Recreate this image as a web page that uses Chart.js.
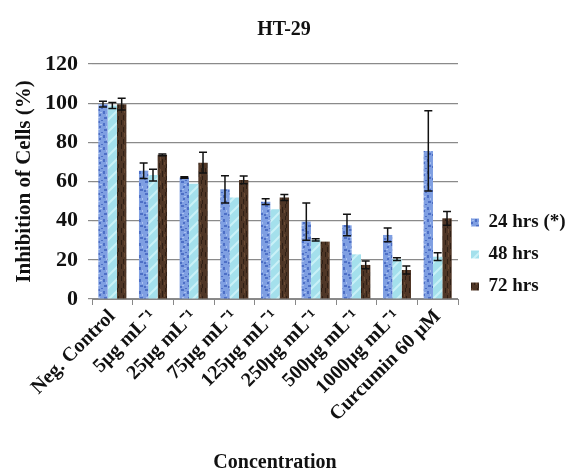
<!DOCTYPE html>
<html>
<head>
<meta charset="utf-8">
<script src="https://cdn.jsdelivr.net/npm/chart.js@4.4.1/dist/chart.umd.min.js"></script>
<style>
  html, body { margin: 0; padding: 0; background: #fff; }
  #wrap { width: 568px; height: 476px; }
</style>
</head>
<body>
<div id="wrap"><canvas id="chart" width="568" height="476"></canvas></div>
<script>
const categories = ['Neg. Control', '5μg mL⁻¹', '25μg mL⁻¹', '75μg mL⁻¹', '125μg mL⁻¹',
  '250μg mL⁻¹', '500μg mL⁻¹', '1000μg mL⁻¹', 'Curcumin 60 μM'];

const hrs24 = [99.5, 65.5, 62, 56, 49.7, 39.5, 37.8, 32.7, 75.6];
const hrs48 = [98.8, 63.3, 58.8, 51.8, 45.8, 30.2, 22.8, 20.4, 21.6];
const hrs72 = [99.5, 73.6, 69.6, 60.8, 51.8, 29.3, 17.4, 14.8, 41.2];

const err24 = [1.5, 4, 0.4, 7, 1.5, 9.5, 5.5, 3.5, 20.5];
const err48 = [1.5, 3, 0, 0, 0, 0.6, 0, 0.7, 2];
const err72 = [3, 0.4, 5.3, 2, 1.5, 0, 2, 2, 3.5];

const yTicks = [0, 20, 40, 60, 80, 100, 120];

const serif = 'Liberation Serif, Times New Roman, serif';

function makePattern(base, draw) {
  const c = document.createElement('canvas');
  c.width = 12; c.height = 12;
  const g = c.getContext('2d');
  g.fillStyle = base;
  g.fillRect(0, 0, 12, 12);
  draw(g);
  return g.createPattern(c, 'repeat');
}

const ctx = document.getElementById('chart').getContext('2d');

const blueFill = makePattern('#7f9fe2', g => {
  g.fillStyle = '#4d6fc6';
  [[1, 1, 3, 2], [7, 3, 2, 3], [3, 6, 2, 2], [8, 9, 3, 2], [0, 10, 2, 2], [5, 0, 2, 1]]
    .forEach(r => g.fillRect(r[0], r[1], r[2], r[3]));
  g.fillStyle = '#a9c0f0';
  [[4, 4, 2, 1], [10, 6, 1, 2], [2, 9, 2, 1]].forEach(r => g.fillRect(r[0], r[1], r[2], r[3]));
});

const cyanFill = makePattern('#a4e0ec', g => {
  g.strokeStyle = '#c9f1f7';
  g.lineWidth = 2;
  g.beginPath();
  g.moveTo(0, 12); g.lineTo(12, 0);
  g.moveTo(-6, 6); g.lineTo(6, -6);
  g.moveTo(6, 18); g.lineTo(18, 6);
  g.stroke();
});

const brownFill = makePattern('#4f3626', g => {
  g.fillStyle = '#2f1f15';
  [[1, 0, 1, 5], [6, 3, 1, 6], [9, 0, 1, 4], [3, 7, 1, 5], [10, 8, 1, 4]]
    .forEach(r => g.fillRect(r[0], r[1], r[2], r[3]));
  g.fillStyle = '#6b4b34';
  [[4, 1, 1, 4], [8, 6, 1, 3]].forEach(r => g.fillRect(r[0], r[1], r[2], r[3]));
});

const errorBars = {
  id: 'errorBars',
  afterDatasetsDraw(chart) {
    const c = chart.ctx;
    const y = chart.scales.y;
    c.save();
    c.strokeStyle = '#111';
    c.lineWidth = 1.5;
    chart.data.datasets.forEach((ds, i) => {
      const meta = chart.getDatasetMeta(i);
      meta.data.forEach((bar, j) => {
        const e = ds.errors[j];
        if (!e) return;
        const v = ds.data[j];
        const top = y.getPixelForValue(v + e);
        const bot = y.getPixelForValue(v - e);
        const x = bar.x;
        c.beginPath();
        c.moveTo(x, top); c.lineTo(x, bot);
        c.moveTo(x - 4, top); c.lineTo(x + 4, top);
        c.moveTo(x - 4, bot); c.lineTo(x + 4, bot);
        c.stroke();
      });
    });
    c.restore();
  }
};

// keep the legend column narrow and a bit lower, like the original
const legendBox = {
  id: 'legendBox',
  afterInit(chart) {
    const lg = chart.legend;
    const fit = lg.fit;
    lg.fit = function () {
      fit.call(this);
      this.width = 110;
    };
  },
  afterLayout(chart) {
    chart.legend.top += 10;
    chart.legend.bottom += 10;
  }
};

new Chart(ctx, {
  type: 'bar',
  data: {
    labels: categories,
    datasets: [
      { label: '24 hrs (*)', data: hrs24, errors: err24, backgroundColor: blueFill },
      { label: '48 hrs', data: hrs48, errors: err48, backgroundColor: cyanFill },
      { label: '72 hrs', data: hrs72, errors: err72, backgroundColor: brownFill }
    ]
  },
  options: {
    responsive: false,
    animation: false,
    categoryPercentage: 0.69,
    barPercentage: 1,
    layout: { padding: 0 },
    plugins: {
      title: {
        display: true,
        text: 'HT-29',
        color: '#111',
        font: { family: serif, size: 20, weight: 'bold' },
        padding: { top: 18, bottom: 22 }
      },
      legend: {
        position: 'right',
        align: 'end',
        fullSize: false,
        labels: {
          color: '#111',
          font: { family: serif, size: 19, weight: 'bold' },
          boxWidth: 8,
          boxHeight: 8,
          padding: 13
        }
      },
      tooltip: { enabled: false }
    },
    scales: {
      x: {
        grid: { drawOnChartArea: false, color: '#888', tickLength: 6 },
        border: { color: '#888' },
        ticks: {
          color: '#111',
          font: { family: serif, size: 20, weight: 'bold' },
          minRotation: 45,
          maxRotation: 45,
          padding: 0
        },
        title: {
          display: true,
          text: 'Concentration',
          color: '#111',
          font: { family: serif, size: 20, weight: 'bold' },
          padding: { top: 0, bottom: 1 }
        },
        afterFit(scale) { scale.height = 177; }
      },
      y: {
        min: 0,
        max: 120,
        afterBuildTicks(scale) { scale.ticks = yTicks.map(v => ({ value: v })); },
        grid: { color: '#8a8a8a', lineWidth: 1.2, tickLength: 4 },
        border: { display: false },
        ticks: {
          color: '#111',
          font: { family: serif, size: 22, weight: 'bold' },
          padding: 10
        },
        title: {
          display: true,
          text: 'Inhibition of Cells (%)',
          color: '#111',
          font: { family: serif, size: 21, weight: 'bold' },
          padding: { top: 12, bottom: 4 }
        },
        afterFit(scale) { scale.width = 92; }
      }
    }
  },
  plugins: [errorBars, legendBox]
});
</script>
</body>
</html>
